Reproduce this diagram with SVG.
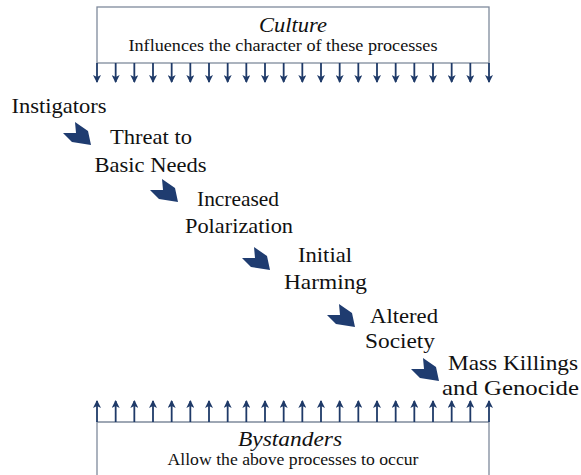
<svg xmlns="http://www.w3.org/2000/svg" width="581" height="475" viewBox="0 0 581 475">
<style>
.t{font-family:"Liberation Serif","Times New Roman",serif;font-size:21.5px;fill:#111}
.ti{font-family:"Liberation Serif","Times New Roman",serif;font-size:20px;font-style:italic;fill:#111}
.ts{font-family:"Liberation Serif","Times New Roman",serif;font-size:17px;fill:#111}
.box{fill:none;stroke:#7f8a9c;stroke-width:1.3}
.ar{stroke:#1f3a68;stroke-width:1.8;fill:none;marker-end:url(#ah)}
.chev{fill:#1f3c70}
</style>
<defs>
<marker id="ah" viewBox="0 0 8 8" refX="7" refY="4" markerWidth="8" markerHeight="8" markerUnits="userSpaceOnUse" orient="auto">
<path d="M0,0 L8,4 L0,8 L2,4 z" fill="#1f3a68"/>
</marker>
<path id="cv" d="M12,0 L25,9 L28,23 L9,20 L0,11 L13,11 z"/>
</defs>

<g id="culture">
<rect class="box" x="97" y="7" width="392" height="56"/>
<text class="ti" x="293" y="31.5" text-anchor="middle" textLength="68" lengthAdjust="spacingAndGlyphs">Culture</text>
<text class="ts" x="128.5" y="51" textLength="309" lengthAdjust="spacingAndGlyphs">Influences the character of these processes</text>
</g>

<g id="bystanders">
<path class="box" d="M97,476 L97,422 L489,422 L489,476"/>
<text class="ti" x="290" y="446" text-anchor="middle" textLength="104" lengthAdjust="spacingAndGlyphs">Bystanders</text>
<text class="ts" x="167.5" y="465" textLength="251" lengthAdjust="spacingAndGlyphs">Allow the above processes to occur</text>
</g>

<g id="connectors">
<g id="down-arrows">
<line class="ar" x1="97" y1="63" x2="97" y2="82"/>
<line class="ar" x1="115.67" y1="63" x2="115.67" y2="82"/>
<line class="ar" x1="134.33" y1="63" x2="134.33" y2="82"/>
<line class="ar" x1="153" y1="63" x2="153" y2="82"/>
<line class="ar" x1="171.67" y1="63" x2="171.67" y2="82"/>
<line class="ar" x1="190.33" y1="63" x2="190.33" y2="82"/>
<line class="ar" x1="209" y1="63" x2="209" y2="82"/>
<line class="ar" x1="227.67" y1="63" x2="227.67" y2="82"/>
<line class="ar" x1="246.33" y1="63" x2="246.33" y2="82"/>
<line class="ar" x1="265" y1="63" x2="265" y2="82"/>
<line class="ar" x1="283.67" y1="63" x2="283.67" y2="82"/>
<line class="ar" x1="302.33" y1="63" x2="302.33" y2="82"/>
<line class="ar" x1="321" y1="63" x2="321" y2="82"/>
<line class="ar" x1="339.67" y1="63" x2="339.67" y2="82"/>
<line class="ar" x1="358.33" y1="63" x2="358.33" y2="82"/>
<line class="ar" x1="377" y1="63" x2="377" y2="82"/>
<line class="ar" x1="395.67" y1="63" x2="395.67" y2="82"/>
<line class="ar" x1="414.33" y1="63" x2="414.33" y2="82"/>
<line class="ar" x1="433" y1="63" x2="433" y2="82"/>
<line class="ar" x1="451.67" y1="63" x2="451.67" y2="82"/>
<line class="ar" x1="470.33" y1="63" x2="470.33" y2="82"/>
<line class="ar" x1="489" y1="63" x2="489" y2="82"/>
</g>
<g id="up-arrows">
<line class="ar" x1="97" y1="422" x2="97" y2="401"/>
<line class="ar" x1="115.67" y1="422" x2="115.67" y2="401"/>
<line class="ar" x1="134.33" y1="422" x2="134.33" y2="401"/>
<line class="ar" x1="153" y1="422" x2="153" y2="401"/>
<line class="ar" x1="171.67" y1="422" x2="171.67" y2="401"/>
<line class="ar" x1="190.33" y1="422" x2="190.33" y2="401"/>
<line class="ar" x1="209" y1="422" x2="209" y2="401"/>
<line class="ar" x1="227.67" y1="422" x2="227.67" y2="401"/>
<line class="ar" x1="246.33" y1="422" x2="246.33" y2="401"/>
<line class="ar" x1="265" y1="422" x2="265" y2="401"/>
<line class="ar" x1="283.67" y1="422" x2="283.67" y2="401"/>
<line class="ar" x1="302.33" y1="422" x2="302.33" y2="401"/>
<line class="ar" x1="321" y1="422" x2="321" y2="401"/>
<line class="ar" x1="339.67" y1="422" x2="339.67" y2="401"/>
<line class="ar" x1="358.33" y1="422" x2="358.33" y2="401"/>
<line class="ar" x1="377" y1="422" x2="377" y2="401"/>
<line class="ar" x1="395.67" y1="422" x2="395.67" y2="401"/>
<line class="ar" x1="414.33" y1="422" x2="414.33" y2="401"/>
<line class="ar" x1="433" y1="422" x2="433" y2="401"/>
<line class="ar" x1="451.67" y1="422" x2="451.67" y2="401"/>
<line class="ar" x1="470.33" y1="422" x2="470.33" y2="401"/>
<line class="ar" x1="489" y1="422" x2="489" y2="401"/>
</g>
<g id="chevrons" class="chev">
<use href="#cv" x="63" y="122"/>
<use href="#cv" x="150" y="179"/>
<use href="#cv" x="242" y="247"/>
<use href="#cv" x="327" y="304"/>
<use href="#cv" x="411" y="358"/>
</g>
</g>

<g id="instigators">
<text class="t" x="11.5" y="112.5" textLength="95" lengthAdjust="spacingAndGlyphs">Instigators</text>
</g>
<g id="threat">
<text class="t" x="110" y="144" textLength="82" lengthAdjust="spacingAndGlyphs">Threat to</text>
<text class="t" x="94.5" y="171.5" textLength="112" lengthAdjust="spacingAndGlyphs">Basic Needs</text>
</g>
<g id="polarization">
<text class="t" x="197" y="206" textLength="82" lengthAdjust="spacingAndGlyphs">Increased</text>
<text class="t" x="185" y="233" textLength="108" lengthAdjust="spacingAndGlyphs">Polarization</text>
</g>
<g id="harming">
<text class="t" x="298" y="262" textLength="54" lengthAdjust="spacingAndGlyphs">Initial</text>
<text class="t" x="284" y="288.5" textLength="83" lengthAdjust="spacingAndGlyphs">Harming</text>
</g>
<g id="altered">
<text class="t" x="370" y="323" textLength="68" lengthAdjust="spacingAndGlyphs">Altered</text>
<text class="t" x="365" y="348" textLength="70" lengthAdjust="spacingAndGlyphs">Society</text>
</g>
<g id="genocide">
<text class="t" x="448" y="370" textLength="130" lengthAdjust="spacingAndGlyphs">Mass Killings</text>
<text class="t" x="442" y="395" textLength="137" lengthAdjust="spacingAndGlyphs">and Genocide</text>
</g>
</svg>
